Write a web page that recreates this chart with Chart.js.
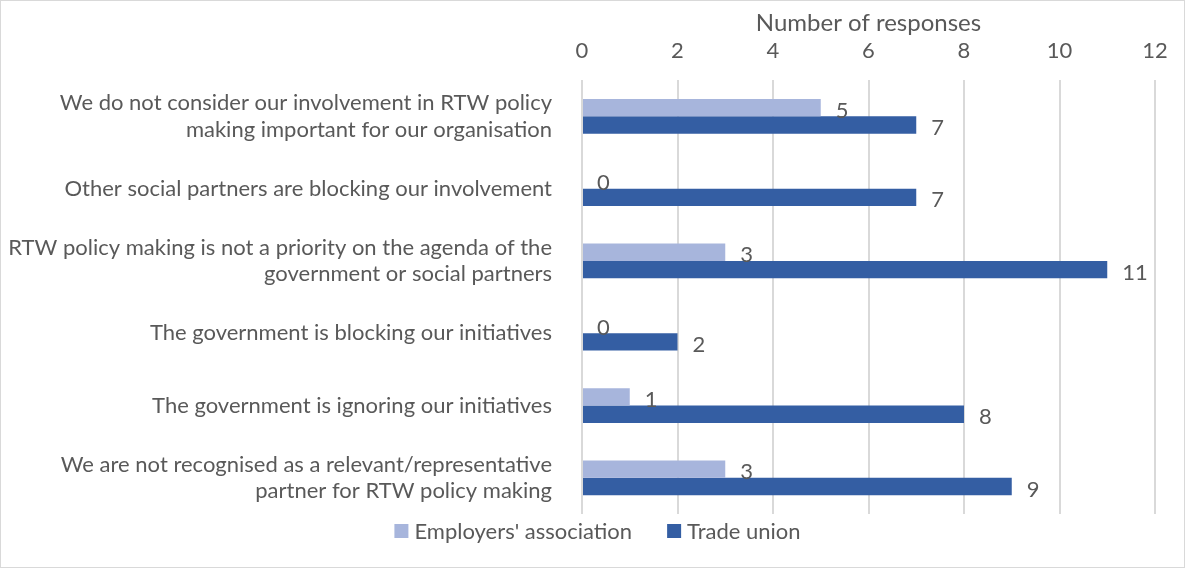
<!DOCTYPE html>
<html>
<head>
<meta charset="utf-8">
<script src="https://cdn.jsdelivr.net/npm/chart.js@4/dist/chart.umd.min.js"></script>
<style>
  html, body { margin: 0; padding: 0; background: #fff; }
  #wrap { width: 1185px; height: 568px; box-sizing: border-box; border: 1px solid #d9d9d9; position: relative; }
</style>
</head>
<body>
<div id="wrap"><canvas id="myChart"></canvas></div>
<script>
const categories = [
    ['We do not consider our involvement in RTW policy', 'making important for our organisation'],
    'Other social partners are blocking our involvement',
    ['RTW policy making is not a priority on the agenda of the', 'government or social partners'],
    'The government is blocking our initiatives',
    'The government is ignoring our initiatives',
    ['We are not recognised as a relevant/representative', 'partner for RTW policy making']
];
const employers = [5, 0, 3, 0, 1, 3];
const tradeUnion = [7, 7, 11, 2, 8, 9];
const xTicks = [0, 2, 4, 6, 8, 10, 12];

const textColor = '#595959';
const fontFamily = 'Lato, "Open Sans", sans-serif';
const fontSize = 22;

// value labels at the end of each bar
const barLabels = {
    id: 'barLabels',
    afterDatasetsDraw(chart) {
        const ctx = chart.ctx;
        ctx.save();
        ctx.fillStyle = textColor;
        ctx.font = fontSize + 'px ' + fontFamily;
        ctx.textAlign = 'left';
        ctx.textBaseline = 'middle';
        chart.data.datasets.forEach((ds, i) => {
            chart.getDatasetMeta(i).data.forEach((bar, j) => {
                ctx.fillText(ds.data[j], bar.x + 15, bar.y + 3);
            });
        });
        ctx.restore();
    }
};

// legend at the bottom with wider spacing between items than the built-in one allows
const bottomLegend = {
    id: 'bottomLegend',
    afterDraw(chart) {
        const ctx = chart.ctx;
        const box = 14, gapText = 6, gapItem = 35;
        ctx.save();
        ctx.font = fontSize + 'px ' + fontFamily;
        ctx.textBaseline = 'middle';
        ctx.textAlign = 'left';
        const items = chart.data.datasets.map(ds => ({
            text: ds.label, color: ds.backgroundColor, w: box + gapText + ctx.measureText(ds.label).width
        }));
        const total = items.reduce((s, it) => s + it.w, 0) + gapItem * (items.length - 1);
        let x = chart.width / 2 + 5 - total / 2;
        const y = chart.chartArea.bottom + 17;
        items.forEach(it => {
            ctx.fillStyle = it.color;
            ctx.fillRect(x, y - box / 2, box, box);
            ctx.fillStyle = textColor;
            ctx.fillText(it.text, x + box + gapText, y + 1);
            x += it.w + gapItem;
        });
        ctx.restore();
    }
};

const ctx = document.getElementById('myChart').getContext('2d');
const myChart = new Chart(ctx, {
    type: 'bar',
    data: {
        labels: categories,
        datasets: [{
            label: "Employers' association",
            data: employers,
            backgroundColor: '#a7b5dc'
        }, {
            label: 'Trade union',
            data: tradeUnion,
            backgroundColor: '#345ea3'
        }]
    },
    options: {
        indexAxis: 'y',
        responsive: true,
        maintainAspectRatio: false,
        animation: false,
        layout: { padding: { top: 8, right: 29, left: 8, bottom: 53 } },
        datasets: { bar: { barPercentage: 1, categoryPercentage: 0.48 } },
        scales: {
            x: {
                position: 'top',
                min: 0,
                max: 12,
                afterBuildTicks: axis => { axis.ticks = xTicks.map(v => ({ value: v })); },
                title: {
                    display: true,
                    text: 'Number of responses',
                    color: textColor,
                    font: { family: fontFamily, size: 24 },
                    padding: { top: 0, bottom: -16 }
                },
                ticks: { color: textColor, font: { family: fontFamily, size: fontSize }, padding: 16 },
                grid: { color: '#d9d9d9', lineWidth: 2, drawTicks: false },
                border: { display: false }
            },
            y: {
                ticks: { color: textColor, font: { family: fontFamily, size: fontSize }, padding: 22 },
                grid: { display: false },
                border: { display: false }
            }
        },
        plugins: {
            legend: { display: false },
            tooltip: { enabled: false }
        }
    },
    plugins: [barLabels, bottomLegend]
});
</script>
</body>
</html>
